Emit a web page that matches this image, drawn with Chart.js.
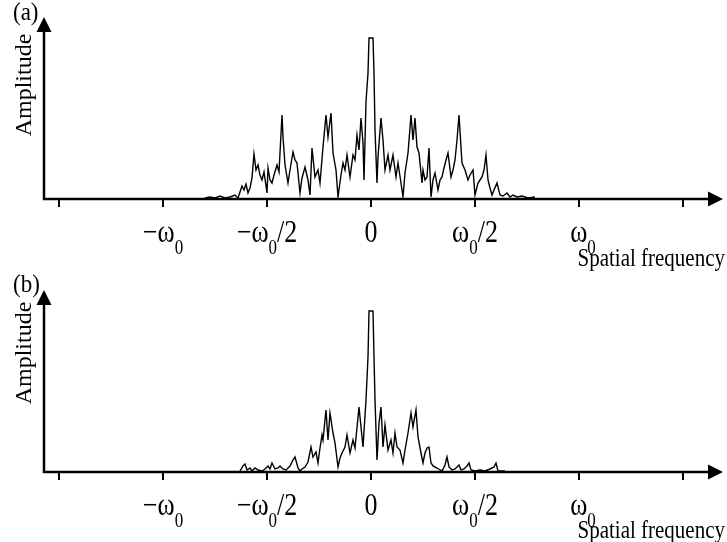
<!DOCTYPE html>
<html>
<head>
<meta charset="utf-8">
<script src="https://cdn.jsdelivr.net/npm/chart.js@4.4.0/dist/chart.umd.min.js"></script>
<style>
  html, body { margin: 0; padding: 0; background: #fff; }
  #wrap { position: relative; width: 727px; height: 542px; }
  canvas { position: absolute; left: 0; }
</style>
</head>
<body>
<div id="wrap">
  <canvas id="chartA" width="727" height="273" style="top:0"></canvas>
  <canvas id="chartB" width="727" height="269" style="top:273px"></canvas>
</div>
<script>
// frequency in bins (omega0 = 208 bins), amplitude in arbitrary units
const freqA = [-166, -161, -156, -151, -146, -141, -136, -133, -131, -129, -127, -125, -123, -121, -119, -117, -115, -113, -111, -109, -107, -104, -103, -101, -99, -97, -94, -92, -89, -88, -86, -83, -81, -78, -76, -74, -71, -69, -66, -63, -61, -59, -56, -53, -51, -48, -45, -43, -40, -38, -35, -33, -30, -28, -26, -24, -21, -18, -16, -14, -12, -10, -8, -7, -5, -3, -2, 2, 3, 4, 6, 7, 10, 12, 14, 17, 19, 22, 25, 27, 30, 32, 34, 37, 40, 42, 44, 46, 48, 51, 52, 54, 56, 58, 60, 62, 64, 67, 69, 71, 73, 75, 77, 80, 82, 84, 86, 88, 91, 94, 97, 99, 102, 104, 107, 109, 111, 113, 115, 117, 119, 121, 123, 126, 129, 132, 136, 139, 142, 146, 151, 157, 164]
const ampA = [1, 2, 1, 3, 1, 2, 4, 1, 7, 13, 9, 15, 6, 11, 21, 45, 29, 34, 24, 19, 27, 6, 31, 19, 16, 24, 34, 27, 84, 62, 34, 16, 29, 47, 39, 36, 6, 21, 32, 19, 4, 51, 22, 29, 16, 52, 84, 62, 86, 46, 29, 2, 24, 36, 29, 44, 22, 44, 39, 64, 49, 81, 56, 19, 97, 126, 161, 161, 126, 69, 16, 42, 81, 59, 29, 44, 29, 44, 22, 36, 16, 2, 26, 46, 84, 59, 81, 52, 46, 16, 29, 19, 22, 51, 2, 19, 26, 9, 19, 22, 31, 39, 46, 22, 29, 39, 59, 84, 36, 29, 19, 24, 29, 4, 16, 19, 22, 29, 44, 19, 11, 4, 9, 16, 4, 3, 6, 2, 4, 2, 3, 1, 2]

const freqB = [-131, -128, -126, -124, -121, -119, -116, -113, -109, -106, -103, -101, -99, -96, -93, -91, -88, -85, -81, -78, -76, -73, -71, -69, -66, -63, -60, -58, -55, -53, -51, -49, -48, -45, -43, -41, -38, -36, -33, -31, -29, -26, -24, -21, -18, -16, -12, -8, -5, -3, -2, 2, 3, 4, 6, 8, 10, 12, 14, 17, 20, 22, 24, 26, 29, 32, 34, 37, 40, 42, 45, 47, 50, 52, 54, 56, 58, 60, 62, 64, 66, 69, 71, 74, 76, 78, 81, 84, 88, 90, 93, 96, 98, 100, 104, 109, 114, 119, 123, 125, 127, 134]
const ampB = [1, 6, 8, 2, 4, 1, 4, 2, 1, 3, 6, 3, 9, 3, 4, 6, 3, 2, 6, 12, 15, 4, 1, 3, 5, 10, 25, 15, 20, 9, 24, 37, 32, 62, 32, 59, 39, 29, 5, 14, 19, 25, 37, 19, 32, 24, 65, 25, 72, 115, 161, 161, 115, 72, 12, 49, 65, 25, 47, 22, 32, 19, 39, 25, 22, 9, 22, 39, 59, 45, 62, 35, 19, 9, 19, 24, 25, 9, 6, 5, 4, 2, 1, 7, 15, 5, 2, 3, 7, 2, 3, 6, 9, 2, 1, 2, 1, 3, 5, 9, 1, 1]

const tickVals = [-312, -208, -104, 0, 104, 208, 312]
const tickMain = ["", "−ω", "−ω", "0", "ω", "ω", ""]
const tickSub = ["", "0", "0", "", "0", "0", ""]
const tickTail = ["", "", "/2", "", "/2", "", ""]

const FONT = '"Liberation Serif", "Times New Roman", serif'

// text stretched vertically like the original figure
function tallText(ctx, text, x, y, size, stretch) {
  ctx.save()
  ctx.font = size + "px " + FONT
  ctx.translate(x, y)
  ctx.scale(1, stretch)
  ctx.fillText(text, 0, 0)
  ctx.restore()
}

// axes, arrows, ticks and labels drawn on top of the data
const axesPlugin = {
  id: "axes",
  afterDatasetsDraw(chart, args, opts) {
    const ctx = chart.ctx
    const area = chart.chartArea
    const xs = chart.scales.x
    const x0 = area.left + 1
    const y0 = area.bottom
    ctx.save()
    ctx.strokeStyle = "#000"
    ctx.fillStyle = "#000"
    ctx.lineWidth = 2.5

    // y axis + arrow
    ctx.beginPath()
    ctx.moveTo(x0, y0 + 1)
    ctx.lineTo(x0, area.top + 12)
    ctx.stroke()
    ctx.beginPath()
    ctx.moveTo(x0, area.top)
    ctx.lineTo(x0 - 7.5, area.top + 15)
    ctx.lineTo(x0 + 7.5, area.top + 15)
    ctx.closePath()
    ctx.fill()

    // x axis + arrow
    ctx.beginPath()
    ctx.moveTo(x0 - 1, y0)
    ctx.lineTo(area.right + 2, y0)
    ctx.stroke()
    ctx.beginPath()
    ctx.moveTo(area.right + 15, y0)
    ctx.lineTo(area.right, y0 - 7.5)
    ctx.lineTo(area.right, y0 + 7.5)
    ctx.closePath()
    ctx.fill()

    // ticks and labels
    ctx.lineWidth = 2
    ctx.textBaseline = "alphabetic"
    ctx.textAlign = "left"
    tickVals.forEach((v, i) => {
      const px = xs.getPixelForValue(v)
      ctx.beginPath()
      ctx.moveTo(px, y0 + 1)
      ctx.lineTo(px, y0 + 8)
      ctx.stroke()

      ctx.font = "26px " + FONT
      const wMain = ctx.measureText(tickMain[i]).width
      const wTail = ctx.measureText(tickTail[i]).width
      ctx.font = "17px " + FONT
      const wSub = ctx.measureText(tickSub[i]).width
      // a lone "ω0" sits a little right of its tick in the original
      let cx = px - (wMain + wSub + wTail) / 2 + (tickTail[i] === "" && tickSub[i] !== "" && v > 0 ? 4 : 0)
      tallText(ctx, tickMain[i], cx, y0 + 43, 26, 1.2)
      cx += wMain
      tallText(ctx, tickSub[i], cx, y0 + 55, 17, 1.2)
      cx += wSub
      tallText(ctx, tickTail[i], cx, y0 + 43, 26, 1.2)
    })

    // axis titles
    ctx.textAlign = "right"
    tallText(ctx, "Spatial frequency", 725, y0 + opts.xTitleDy, 21, 1.15)

    ctx.textAlign = "left"
    tallText(ctx, opts.tag, 13, opts.tagY, 23, 1.05)

    ctx.save()
    ctx.translate(31, opts.ampY)
    ctx.rotate(-Math.PI / 2)
    ctx.font = "24px " + FONT
    ctx.textAlign = "center"
    ctx.fillText("Amplitude", 0, 0)
    ctx.restore()

    ctx.restore()
  },
}

function makeChart(id, freq, amp, bottomPad, panel) {
  return new Chart(document.getElementById(id), {
    type: "line",
    data: {
      datasets: [
        {
          data: freq.map((f, i) => ({ x: f, y: amp[i] })),
          borderColor: "#000",
          borderWidth: 1.4,
          pointRadius: 0,
          tension: 0,
          fill: false,
        },
      ],
    },
    options: {
      responsive: false,
      animation: false,
      devicePixelRatio: 1,
      layout: { padding: { left: 43, right: 19, top: 17, bottom: bottomPad } },
      plugins: {
        legend: { display: false },
        tooltip: { enabled: false },
        axes: panel,
      },
      scales: {
        x: { type: "linear", display: false, min: -328, max: 337 },
        y: { type: "linear", display: false, min: 0, max: 182 },
      },
    },
    plugins: [axesPlugin],
  })
}

makeChart("chartA", freqA, ampA, 74, { tag: "(a)", tagY: 20, ampY: 85, xTitleDy: 67 })
makeChart("chartB", freqB, ampB, 70, { tag: "(b)", tagY: 19, ampY: 80, xTitleDy: 66 })
</script>
</body>
</html>
